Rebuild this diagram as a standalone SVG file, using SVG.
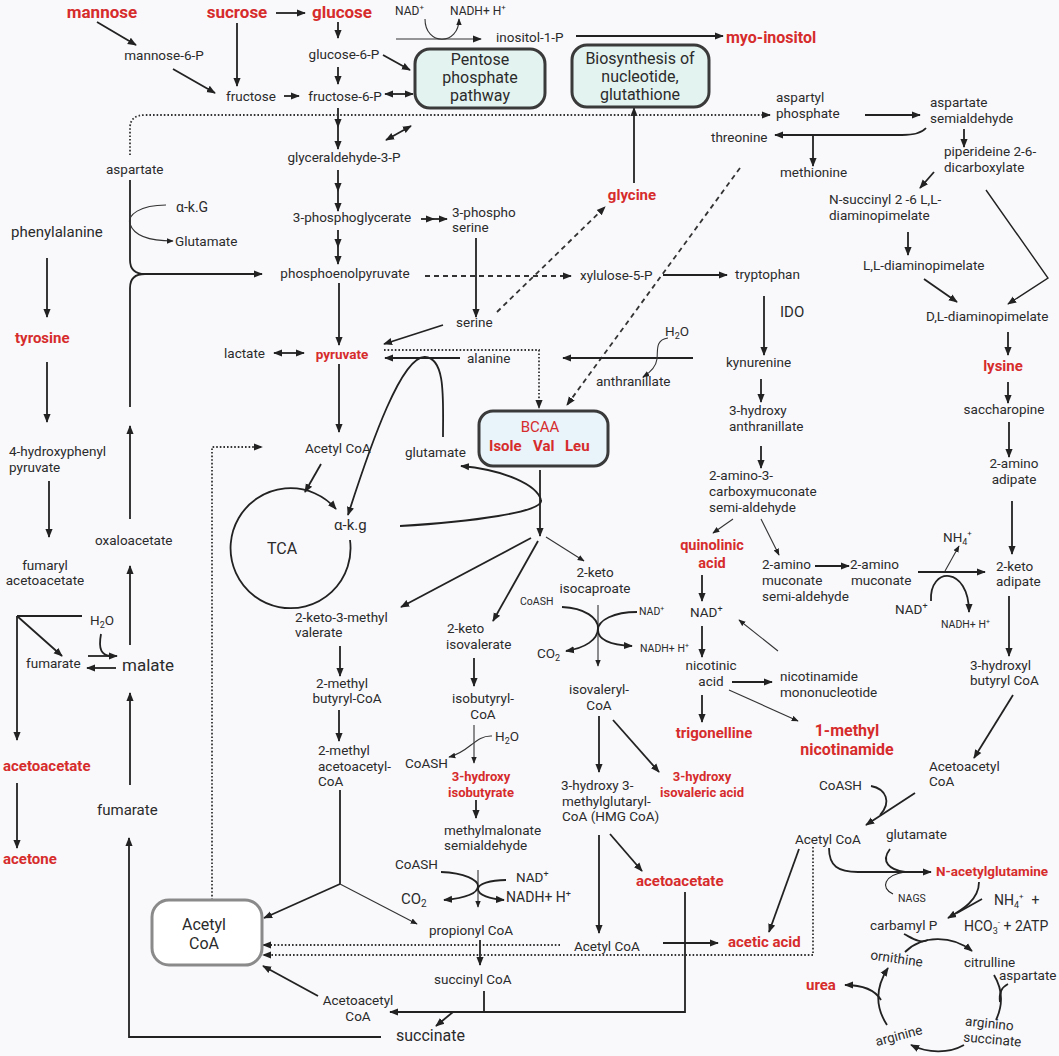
<svg xmlns="http://www.w3.org/2000/svg" width="1059" height="1056" viewBox="0 0 1059 1056">
<defs>
<style>
text{font-family:Roboto,"Liberation Sans",sans-serif;font-size:13.5px;fill:#2b2b2b}
.r{fill:#d62c2c;font-weight:bold}
.m{text-anchor:middle}
.sm{font-size:11px}
.ln{stroke:#222;stroke-width:1.8;fill:none}
.th{stroke:#333;stroke-width:1.1;fill:none}
.dt{stroke:#333;stroke-width:1.8;stroke-dasharray:1.6 2;fill:none}
.ds{stroke:#333;stroke-width:1.8;stroke-dasharray:5 4;fill:none}
.box{fill:#e3f3f0;stroke:#3a3a3a;stroke-width:3}
</style>
<marker id="a" viewBox="0 0 10 10" refX="9" refY="5" markerWidth="9" markerHeight="9" markerUnits="userSpaceOnUse" orient="auto-start-reverse"><path d="M0,1 L10,5 L0,9 z" fill="#222"/></marker>
<marker id="s" viewBox="0 0 10 10" refX="9" refY="5" markerWidth="7" markerHeight="7" markerUnits="userSpaceOnUse" orient="auto-start-reverse"><path d="M0,1 L10,5 L0,9 z" fill="#222"/></marker>
</defs>
<rect width="1059" height="1056" fill="#f9f9fc"/>

<g id="connectors">
<path class="ln" marker-end="url(#a)" d="M97,22 L136,45"/>
<path class="ln" marker-end="url(#a)" d="M276,13 L305,13"/>
<path class="ln" marker-end="url(#a)" d="M338,22 L338,38"/>
<path class="ln" marker-end="url(#a)" d="M237,23 L237,86"/>
<path class="ln" marker-end="url(#a)" d="M173,69 L215,93"/>
<path class="ln" marker-end="url(#a)" d="M284,96 L299,96"/>
<path class="ln" marker-end="url(#a)" d="M338,67 L338,84"/>
<path class="ln" marker-end="url(#a)" d="M383,55 L410,70"/>
<path class="ln" marker-start="url(#a)" marker-end="url(#a)" d="M385,94 L413,94"/>
<path class="th" marker-end="url(#s)" d="M425,19 C425,46 459,46 459,19"/>
<path class="th" marker-end="url(#a)" d="M396,39 L481,39"/>
<path class="ln" marker-end="url(#a)" d="M576,36 L723,36"/>
<path class="ln" marker-mid="url(#a)" marker-end="url(#a)" d="M338,108 L338,127 L338,149"/>
<path class="ln" marker-start="url(#a)" marker-end="url(#a)" d="M386,140 L411,126"/>
<path class="ln" marker-mid="url(#a)" marker-end="url(#a)" d="M338,170 L338,191 L338,211"/>
<path class="ln" marker-mid="url(#a)" marker-end="url(#a)" d="M421,219 L434,219 L447,219"/>
<path class="ln" marker-mid="url(#a)" marker-end="url(#a)" d="M338,230 L338,247 L338,264"/>
<path class="ln" marker-end="url(#a)" d="M476,238 L476,317"/>
<path class="ln" marker-end="url(#a)" d="M443,325 L384,344"/>
<path class="ds" marker-end="url(#a)" d="M497,312 L605,207"/>
<path class="ds" marker-end="url(#a)" d="M425,276 L571,276"/>
<path class="ln" marker-end="url(#a)" d="M663,275 L727,275"/>
<path class="ds" marker-end="url(#a)" d="M740,168 L567,405"/>
<path class="ln" marker-end="url(#a)" d="M634,183 L634,108"/>
<path class="dt" marker-end="url(#a)" d="M130,155 L130,128 Q130,115 145,115 L770,115"/>
<path class="ln" marker-end="url(#a)" d="M865,115 L920,115"/>
<path class="ln" marker-end="url(#a)" d="M926,128 Q920,135 902,135 L775,135"/>
<path class="ln" marker-end="url(#a)" d="M813,135 L813,166"/>
<path class="ln" marker-end="url(#a)" d="M964,129 L964,147"/>
<path class="ln" marker-end="url(#a)" d="M934,172 L920,188"/>
<path class="ln" marker-end="url(#a)" d="M908,232 L908,255"/>
<path class="ln" style="stroke-width:1.4" marker-end="url(#a)" d="M986,190 L1048,278 L1008,304"/>
<path class="ln" marker-end="url(#a)" d="M924,279 L957,302"/>
<path class="ln" marker-end="url(#a)" d="M1008,332 L1008,355"/>
<path class="ln" marker-end="url(#a)" d="M1008,382 L1008,403"/>
<path class="ln" marker-end="url(#a)" d="M1009,422 L1009,457"/>
<path class="ln" marker-end="url(#a)" d="M1012,501 L1012,554"/>
<path class="ln" marker-end="url(#a)" d="M1009,596 L1009,656"/>
<path class="ln" marker-end="url(#a)" d="M1013,695 L974,758"/>
<path class="ln" marker-end="url(#a)" d="M918,572 L985,572"/>
<path class="th" marker-end="url(#s)" d="M945,571 L959,546"/>
<path class="ln" marker-end="url(#a)" d="M931,601 C929,566 969,566 969,612"/>
<path class="ln" marker-end="url(#a)" d="M815,566 L849,566"/>
<path class="th" marker-end="url(#s)" d="M761,519 L779,555"/>
<path class="th" marker-end="url(#s)" d="M733,519 L713,533"/>
<path class="ln" marker-end="url(#a)" d="M702,575 L702,601"/>
<path class="ln" marker-end="url(#a)" d="M702,626 L702,657"/>
<path class="ln" marker-end="url(#a)" d="M702,695 L702,722"/>
<path class="ln" marker-end="url(#a)" d="M732,682 L772,682"/>
<path class="th" marker-end="url(#s)" d="M778,651 L739,620"/>
<path class="th" marker-end="url(#s)" d="M729,690 L798,721"/>
<path class="ln" marker-end="url(#a)" d="M764,296 L764,355"/>
<path class="ln" marker-end="url(#a)" d="M761,379 L761,402"/>
<path class="ln" marker-end="url(#a)" d="M761,446 L761,468"/>
<path class="ln" marker-end="url(#a)" d="M339,283 L339,345"/>
<path class="ln" marker-start="url(#a)" marker-end="url(#a)" d="M274,353 L304,353"/>
<path class="ln" marker-end="url(#a)" d="M339,364 L339,432"/>
<path class="ln" marker-end="url(#a)" d="M460,358 L385,358"/>
<path class="dt" marker-end="url(#a)" d="M384,350 L539,350 L539,408"/>
<path class="ln" marker-end="url(#a)" d="M693,358 L563,358"/>
<path class="th" marker-end="url(#s)" d="M668,338 C655,340 658,350 657,359 C656,367 651,372 643,377"/>
<path class="ln" marker-end="url(#a)" d="M443,437 C443,400 446,358 425,357 C402,356 372,440 348,515"/>
<path class="ln" marker-end="url(#a)" d="M540,470 L540,536"/>
<path class="ln" marker-end="url(#a)" d="M400,526 C470,522 545,512 541,500 C537,485 505,470 461,466"/>
<path class="ln" marker-end="url(#a)" d="M321,464 L305,492"/>
<path class="ln" marker-end="url(#a)" d="M350,540 A60,60 0 1 1 336,509"/>
<path class="dt" marker-end="url(#a)" d="M212,900 L212,447 L262,447"/>
<path class="ln" marker-end="url(#a)" d="M531,538 L401,607"/>
<path class="ln" marker-end="url(#a)" d="M538,541 L493,621"/>
<path class="th" marker-end="url(#s)" d="M546,537 L584,561"/>
<path class="ln" marker-end="url(#a)" d="M340,646 L340,676"/>
<path class="ln" marker-end="url(#a)" d="M339,710 L339,741"/>
<path class="ln" d="M340,790 L340,884"/>
<path class="ln" marker-end="url(#a)" d="M340,884 L264,918"/>
<path class="th" marker-end="url(#s)" d="M340,884 L417,924"/>
<path class="ln" marker-end="url(#a)" d="M474,658 L474,686"/>
<path class="th" marker-end="url(#s)" d="M474,725 L474,763"/>
<path class="th" marker-end="url(#s)" d="M492,736 C475,735 470,752 449,757"/>
<path class="ln" marker-end="url(#a)" d="M476,800 L476,818"/>
<path class="th" marker-end="url(#s)" d="M478,870 L478,907"/>
<path class="ln" marker-end="url(#a)" d="M441,872 C465,873 478,880 478,886 C478,893 466,898 444,900"/>
<path class="ln" marker-end="url(#a)" d="M506,880 C490,880 478,884 478,889 C478,895 490,899 504,900"/>
<path class="th" marker-end="url(#s)" d="M598,605 L598,666"/>
<path class="ln" marker-end="url(#a)" d="M562,607 C585,608 598,618 598,628 C598,640 585,648 566,651"/>
<path class="ln" marker-end="url(#a)" d="M637,612 C614,612 598,620 598,630 C598,640 612,645 632,646"/>
<path class="ln" marker-end="url(#a)" d="M599,716 L599,772"/>
<path class="ln" marker-end="url(#a)" d="M613,720 L659,772"/>
<path class="ln" marker-end="url(#a)" d="M599,835 L599,933"/>
<path class="ln" marker-end="url(#a)" d="M610,834 L642,871"/>
<path class="ln" marker-end="url(#a)" d="M663,943 L718,943"/>
<path class="ln" d="M685,892 L685,1012 L391,1012"/>
<path class="ln" marker-end="url(#a)" d="M484,991 L484,1012 L390,1012"/>
<path class="ln" marker-end="url(#a)" d="M453,1012 L436,1026"/>
<path class="ln" marker-end="url(#a)" d="M480,940 L480,965"/>
<path class="ln" marker-end="url(#a)" d="M381,1037 L129,1037 L129,838"/>
<path class="ln" marker-end="url(#a)" d="M318,996 L263,966"/>
<path class="dt" marker-end="url(#a)" d="M560,945 L263,945"/>
<path class="dt" marker-end="url(#a)" d="M813,847 L813,955 L263,955"/>
<path class="ln" marker-end="url(#a)" d="M915,793 L866,825"/>
<path class="ln" d="M871,786 C886,789 892,802 880,815"/>
<path class="ln" marker-end="url(#a)" d="M799,849 L769,932"/>
<path class="ln" marker-end="url(#a)" d="M829,848 C829,866 838,872 858,872 L931,872"/>
<path class="ln" d="M890,849 C880,862 890,870 905,872"/>
<path class="ln" style="stroke-width:1.2" d="M893,894 C880,888 884,875 905,872"/>
<path class="ln" marker-end="url(#a)" d="M979,882 C979,900 962,910 948,918"/>
<path class="ln" d="M982,899 L957,913"/>
<path class="ln" marker-end="url(#a)" d="M905,952 C922,935 952,935 972,951"/>
<path class="ln" d="M904,934 C912,938 920,944 928,940"/>
<path class="ln" d="M994,975 C1003,990 1003,1005 996,1020"/>
<path class="ln" d="M1008,984 C1000,988 999,995 1000,1002"/>
<path class="ln" marker-end="url(#a)" d="M964,1045 C948,1054 928,1053 911,1045"/>
<path class="ln" marker-end="url(#a)" d="M887,1025 C874,1005 877,985 888,968"/>
<path class="ln" marker-end="url(#a)" d="M881,1000 C875,990 864,985 845,985"/>
<path class="ln" marker-end="url(#a)" d="M17,616 L62,656"/>
<path class="ln" d="M82,616 L17,616"/>
<path class="ln" marker-end="url(#a)" d="M17,616 L17,740"/>
<path class="ln" marker-end="url(#a)" d="M88,656 L117,656"/>
<path class="ln" marker-end="url(#a)" d="M116,668 L87,668"/>
<path class="ln" d="M101,634 C98,650 102,655 110,656"/>
<path class="ln" marker-end="url(#a)" d="M130,645 L130,566"/>
<path class="ln" marker-end="url(#a)" d="M130,519 L130,426"/>
<path class="ln" marker-end="url(#a)" d="M130,785 L130,693"/>
<path class="ln" marker-end="url(#a)" d="M17,783 L17,848"/>
<path class="ln" marker-end="url(#a)" d="M47,258 L47,317"/>
<path class="ln" marker-end="url(#a)" d="M47,362 L47,422"/>
<path class="ln" marker-end="url(#a)" d="M49,481 L49,537"/>
<path class="ln" marker-end="url(#a)" d="M130,180 L130,260 Q130,274 145,274 L262,274"/>
<path class="ln" d="M130,407 L130,288 Q130,274 145,274"/>
<path class="th" marker-end="url(#s)" d="M166,205 C140,205 127,215 130,224 C134,236 150,241 173,241"/>
</g>

<g id="mannose"><text class="r m" x="102" y="18" style="font-size:17px">mannose</text></g>
<g id="sucrose"><text class="r m" x="237" y="18" style="font-size:17px">sucrose</text></g>
<g id="glucose"><text class="r m" x="342" y="18" style="font-size:17px">glucose</text></g>
<g id="nad-top"><text x="395" y="15" style="font-size:12px">NAD<tspan dy="-5" font-size="8">+</tspan></text><text x="450" y="15" style="font-size:12px">NADH+ H<tspan dy="-5" font-size="8">+</tspan></text></g>
<g id="inositol-1-p"><text x="496" y="42">inositol-1-P</text></g>
<g id="myo-inositol"><text class="r" x="726" y="43" style="font-size:16px">myo-inositol</text></g>
<g id="mannose-6-p"><text class="m" x="164" y="60">mannose-6-P</text></g>
<g id="glucose-6-p"><text class="m" x="344" y="59">glucose-6-P</text></g>
<g id="fructose"><text class="m" x="251" y="101">fructose</text></g>
<g id="fructose-6-p"><text class="m" x="345" y="101">fructose-6-P</text></g>
<g id="ppp"><rect class="box" x="415" y="49" width="130" height="59" rx="15"/><text class="m" x="480" y="65" style="font-size:16px">Pentose</text><text class="m" x="480" y="83" style="font-size:16px">phosphate</text><text class="m" x="480" y="101" style="font-size:16px">pathway</text></g>
<g id="biosynthesis"><rect class="box" x="572" y="45" width="137" height="62" rx="15"/><text class="m" x="640" y="64" style="font-size:16px">Biosynthesis of</text><text class="m" x="640" y="82" style="font-size:16px">nucleotide,</text><text class="m" x="640" y="100" style="font-size:16px">glutathione</text></g>
<g id="aspartyl-phosphate"><text x="776" y="102">aspartyl</text><text x="776" y="118">phosphate</text></g>
<g id="aspartate-semialdehyde"><text x="930" y="107">aspartate</text><text x="930" y="123">semialdehyde</text></g>
<g id="threonine"><text x="711" y="142">threonine</text></g>
<g id="methionine"><text x="780" y="177">methionine</text></g>
<g id="piperideine"><text x="944" y="156">piperideine 2-6-</text><text x="944" y="172">dicarboxylate</text></g>
<g id="n-succinyl"><text x="829" y="204">N-succinyl 2 -6 L,L-</text><text x="829" y="220">diaminopimelate</text></g>
<g id="ll-dap"><text x="863" y="270">L,L-diaminopimelate</text></g>
<g id="dl-dap"><text x="926" y="321">D,L-diaminopimelate</text></g>
<g id="lysine"><text class="r m" x="1003" y="371" style="font-size:15px">lysine</text></g>
<g id="saccharopine"><text class="m" x="1004" y="414">saccharopine</text></g>
<g id="aminoadipate"><text class="m" x="1014" y="468">2-amino</text><text class="m" x="1014" y="484">adipate</text></g>
<g id="ketoadipate"><text x="996" y="571">2-keto</text><text x="996" y="586">adipate</text></g>
<g id="nh4-nad"><text x="943" y="542">NH<tspan dy="3" font-size="9">4</tspan><tspan dy="-9" font-size="8">+</tspan></text><text x="895" y="614">NAD<tspan dy="-5" font-size="9">+</tspan></text><text x="941" y="628" style="font-size:10.5px">NADH+ H<tspan dy="-4" font-size="7">+</tspan></text></g>
<g id="hydroxybutyryl"><text x="970" y="670">3-hydroxyl</text><text x="970" y="685">butyryl CoA</text></g>
<g id="acetoacetyl-coa-r"><text x="929" y="771">Acetoacetyl</text><text x="929" y="786">CoA</text></g>
<g id="glyceraldehyde"><text class="m" x="344" y="162">glyceraldehyde-3-P</text></g>
<g id="phosphoglycerate"><text class="m" x="352" y="222">3-phosphoglycerate</text></g>
<g id="phosphoserine"><text x="452" y="217">3-phospho</text><text x="452" y="232">serine</text></g>
<g id="glycine"><text class="r m" x="632" y="200" style="font-size:15px">glycine</text></g>
<g id="pep"><text class="m" x="345" y="278">phosphoenolpyruvate</text></g>
<g id="xylulose"><text x="580" y="280">xylulose-5-P</text></g>
<g id="tryptophan"><text x="735" y="279">tryptophan</text></g>
<g id="ido"><text x="780" y="317" style="font-size:15px">IDO</text></g>
<g id="serine"><text x="456" y="327">serine</text></g>
<g id="lactate"><text x="224" y="358">lactate</text></g>
<g id="pyruvate"><text class="r m" x="342" y="359">pyruvate</text></g>
<g id="alanine"><text x="467" y="363">alanine</text></g>
<g id="h2o-anth"><text x="665" y="336">H<tspan dy="3" font-size="9">2</tspan><tspan dy="-3">O</tspan></text></g>
<g id="anthranillate"><text x="596" y="386">anthranillate</text></g>
<g id="kynurenine"><text x="726" y="367">kynurenine</text></g>
<g id="hydroxyanthranillate"><text x="729" y="415">3-hydroxy</text><text x="729" y="431">anthranillate</text></g>
<g id="acms"><text x="709" y="480">2-amino-3-</text><text x="709" y="496">carboxymuconate</text><text x="709" y="512">semi-aldehyde</text></g>
<g id="quinolinic"><text class="r m" x="712" y="550" style="font-size:14.5px">quinolinic</text><text class="r m" x="712" y="568" style="font-size:14.5px">acid</text></g>
<g id="amsa"><text x="762" y="569">2-amino</text><text x="762" y="585">muconate</text><text x="762" y="601">semi-aldehyde</text></g>
<g id="aminomuconate"><text x="850" y="569">2-amino</text><text x="851" y="585">muconate</text></g>
<g id="nad-mid"><text x="690" y="617">NAD<tspan dy="-5" font-size="9">+</tspan></text></g>
<g id="nicotinic"><text class="m" x="711" y="670">nicotinic</text><text class="m" x="711" y="686">acid</text></g>
<g id="nmn"><text x="780" y="681">nicotinamide</text><text x="780" y="697">mononucleotide</text></g>
<g id="trigonelline"><text class="r m" x="714" y="738" style="font-size:15px">trigonelline</text></g>
<g id="methylnicotinamide"><text class="r m" x="847" y="736" style="font-size:16px">1-methyl</text><text class="r m" x="847" y="755" style="font-size:16px">nicotinamide</text></g>
<g id="acetyl-coa-top"><text x="305" y="453">Acetyl CoA</text></g>
<g id="glutamate-mid"><text x="405" y="457">glutamate</text></g>
<g id="akg"><text x="334" y="530" style="font-size:15px">α-k.g</text></g>
<g id="tca"><text x="267" y="554" style="font-size:16px">TCA</text></g>
<g id="bcaa"><rect x="479" y="411" width="129" height="55" rx="14" style="fill:#e8f3fa;stroke:#3a3a3a;stroke-width:3"/><text class="m" x="540" y="432" style="font-size:15px;fill:#d62c2c">BCAA</text><text class="r" y="451" style="font-size:15px"><tspan x="489">Isole</tspan><tspan x="533">Val</tspan><tspan x="565">Leu</tspan></text></g>
<g id="aspartate-l"><text x="106" y="174">aspartate</text></g>
<g id="akg-l"><text x="176" y="212" style="font-size:14px">α-k.G</text></g>
<g id="glutamate-l"><text x="175" y="246">Glutamate</text></g>
<g id="phenylalanine"><text x="11" y="237" style="font-size:15px">phenylalanine</text></g>
<g id="tyrosine"><text class="r" x="15" y="343" style="font-size:15px">tyrosine</text></g>
<g id="hpp"><text x="9" y="456">4-hydroxyphenyl</text><text x="9" y="472">pyruvate</text></g>
<g id="fumarylacetoacetate"><text class="m" x="45" y="570">fumaryl</text><text class="m" x="45" y="585">acetoacetate</text></g>
<g id="oxaloacetate"><text x="95" y="545">oxaloacetate</text></g>
<g id="h2o-l"><text x="90" y="625">H<tspan dy="3" font-size="9">2</tspan><tspan dy="-3">O</tspan></text></g>
<g id="fumarate-l"><text x="26" y="668">fumarate</text></g>
<g id="malate"><text x="122" y="671" style="font-size:17px">malate</text></g>
<g id="acetoacetate-l"><text class="r" x="3" y="771" style="font-size:15px">acetoacetate</text></g>
<g id="acetone"><text class="r" x="3" y="864" style="font-size:15px">acetone</text></g>
<g id="fumarate-b"><text x="97" y="815" style="font-size:15px">fumarate</text></g>
<g id="keto-methylvalerate"><text x="295" y="622">2-keto-3-methyl</text><text x="295" y="637">valerate</text></g>
<g id="methylbutyryl"><text class="m" x="342" y="688">2-methyl</text><text class="m" x="347" y="703">butyryl-CoA</text></g>
<g id="methylacetoacetyl"><text x="318" y="755">2-methyl</text><text x="318" y="771">acetoacetyl-</text><text x="318" y="786">CoA</text></g>
<g id="keto-isovalerate"><text x="447" y="633">2-keto</text><text x="446" y="649">isovalerate</text></g>
<g id="isobutyryl"><text class="m" x="483" y="703">isobutyryl-</text><text class="m" x="483" y="719">CoA</text></g>
<g id="h2o-ib"><text x="495" y="741">H<tspan dy="3" font-size="9">2</tspan><tspan dy="-3">O</tspan></text><text x="405" y="768">CoASH</text></g>
<g id="hydroxyisobutyrate"><text class="r m" x="481" y="781" style="font-size:13px">3-hydroxy</text><text class="r m" x="481" y="797" style="font-size:13px">isobutyrate</text></g>
<g id="methylmalonate"><text x="444" y="835">methylmalonate</text><text x="444" y="850">semialdehyde</text></g>
<g id="cofactors-mm"><text x="395" y="869">CoASH</text><text x="516" y="882">NAD<tspan dy="-5" font-size="9">+</tspan></text><text x="401" y="904" style="font-size:15px">CO<tspan dy="3" font-size="10">2</tspan></text><text x="506" y="902" style="font-size:14px">NADH+ H<tspan dy="-5" font-size="9">+</tspan></text></g>
<g id="keto-isocaproate"><text class="m" x="595" y="577">2-keto</text><text class="m" x="595" y="593">isocaproate</text></g>
<g id="cofactors-ic"><text x="520" y="605" style="font-size:10.5px">CoASH</text><text x="639" y="615" style="font-size:10.5px">NAD<tspan dy="-4" font-size="7">+</tspan></text><text x="537" y="658">CO<tspan dy="3" font-size="9">2</tspan></text><text x="640" y="652" style="font-size:10.5px">NADH+ H<tspan dy="-4" font-size="7">+</tspan></text></g>
<g id="isovaleryl"><text class="m" x="599" y="694">isovaleryl-</text><text class="m" x="599" y="710">CoA</text></g>
<g id="hmg"><text x="561" y="790">3-hydroxy 3-</text><text x="562" y="806">methylglutaryl-</text><text x="562" y="821">CoA (HMG CoA)</text></g>
<g id="hydroxyisovaleric"><text class="r m" x="702" y="781" style="font-size:13px">3-hydroxy</text><text class="r m" x="702" y="797" style="font-size:13px">isovaleric acid</text></g>
<g id="acetoacetate-m"><text class="r" x="636" y="886" style="font-size:15px">acetoacetate</text></g>
<g id="acetyl-coa-mid"><text x="574" y="951">Acetyl CoA</text></g>
<g id="acetic-acid"><text class="r" x="728" y="947" style="font-size:15px">acetic acid</text></g>
<g id="propionyl"><text x="429" y="935">propionyl CoA</text></g>
<g id="succinyl"><text x="434" y="984">succinyl CoA</text></g>
<g id="acetoacetyl-coa-l"><text class="m" x="358" y="1005">Acetoacetyl</text><text class="m" x="358" y="1021">CoA</text></g>
<g id="succinate"><text x="396" y="1041" style="font-size:16px">succinate</text></g>
<g id="acetyl-coa-box"><rect x="152" y="900" width="110" height="65" rx="17" style="fill:#fff;stroke:#8a8a8a;stroke-width:3"/><text class="m" x="204" y="930" style="font-size:16px">Acetyl</text><text class="m" x="204" y="949" style="font-size:16px">CoA</text></g>
<g id="coash-r"><text x="819" y="790">CoASH</text></g>
<g id="acetyl-coa-r"><text x="795" y="844">Acetyl CoA</text></g>
<g id="glutamate-r"><text x="886" y="839">glutamate</text></g>
<g id="nags"><text x="898" y="902" style="font-size:10.5px">NAGS</text></g>
<g id="n-acetylglutamine"><text class="r" x="936" y="876" style="font-size:13.5px">N-acetylglutamine</text></g>
<g id="nh4-hco3"><text x="994" y="905" style="font-size:14px">NH<tspan dy="3" font-size="9">4</tspan><tspan dy="-9" font-size="8">+</tspan><tspan dy="6" dx="8">+</tspan></text><text x="964" y="931" style="font-size:14px">HCO<tspan dy="3" font-size="9">3</tspan><tspan dy="-9" font-size="8">-</tspan><tspan dy="6"> + 2ATP</tspan></text></g>
<g id="carbamyl-p"><text x="870" y="930">carbamyl P</text></g>
<g id="ornithine"><text class="m" transform="translate(896,963) rotate(8)">ornithine</text></g>
<g id="citrulline"><text x="964" y="967">citrulline</text></g>
<g id="aspartate-r"><text x="999" y="980">aspartate</text></g>
<g id="argininosuccinate"><text class="m" transform="translate(989,1028) rotate(6)">arginino</text><text class="m" transform="translate(992,1044) rotate(5)">succinate</text></g>
<g id="arginine"><text class="m" transform="translate(900,1040) rotate(-15)">arginine</text></g>
<g id="urea"><text class="r" x="806" y="990" style="font-size:15px">urea</text></g>
</svg>
